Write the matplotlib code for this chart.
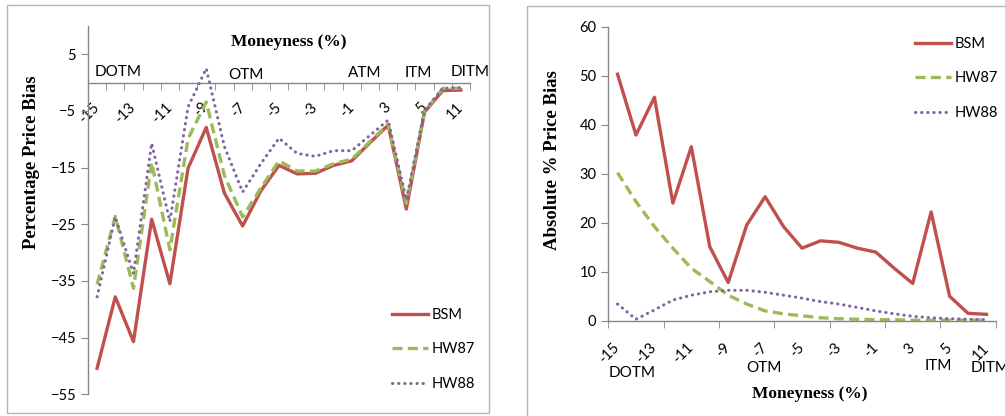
import numpy as np
import matplotlib
matplotlib.use("Agg")
import matplotlib.pyplot as plt
from matplotlib.patches import Rectangle

# Datos
moneyness = [-15, -14, -13, -12, -11, -10, -9, -8, -7, -6, -5, -4, -3, -2, -1,
             1, 3, 4, 5, 7, 11]

bsm_bias = [-50.4, -37.8, -45.7, -24.1, -35.5, -15.1, -7.9, -19.5, -25.3, -19.1,
            -14.6, -16.1, -16.0, -14.6, -13.8, -10.6, -7.5, -22.3, -5.2, -1.4, -1.3]
hw87_bias = [-35.6, -23.6, -36.3, -14.1, -29.5, -9.9, -3.4, -16.4, -23.7, -18.6,
             -13.8, -15.6, -15.6, -14.3, -13.5, -10.4, -7.3, -21.3, -5.1, -1.0, -1.0]
hw88_bias = [-37.8, -23.7, -33.7, -10.7, -24.5, -4.3, 2.5, -11.3, -19.3, -14.3,
             -9.8, -12.5, -13.0, -12.0, -12.0, -9.3, -6.6, -20.7, -4.9, -1.0, -0.9]

bsm_abs = [50.3, 37.9, 45.6, 24.0, 35.5, 15.1, 7.8, 19.5, 25.3, 19.2,
           14.8, 16.3, 16.0, 14.8, 14.0, 10.7, 7.6, 22.2, 5.0, 1.5, 1.3]
hw87_abs = [30.2, 24.3, 19.2, 14.8, 10.7, 8.0, 5.2, 3.4, 2.0, 1.4,
            1.0, 0.6, 0.4, 0.3, 0.2, 0.2, 0.1, 0.1, 0.1, 0.1, 0.1]
hw88_abs = [3.4, 0.3, 2.2, 4.2, 5.2, 5.9, 6.2, 6.2, 5.8, 5.2,
            4.6, 3.9, 3.4, 2.7, 2.0, 1.4, 0.9, 0.6, 0.4, 0.3, 0.2]

series_names = ["BSM", "HW87", "HW88"]

W, H = 1005, 416
fig = plt.figure(figsize=(W / 100, H / 100), dpi=100)

def px(x, y):
    return x / W, 1 - y / H

sans = "Lato"
serif = "Liberation Serif"
gris = "#868686"
estilos = [dict(color="#C0504D", lw=2.4, ls="-"),
           dict(color="#9BBB59", lw=2.4, ls=(0, (3, 1.6))),
           dict(color="#8064A2", lw=2.2, ls=(0, (0.1, 1.9)), dash_capstyle="round")]

x = np.arange(len(moneyness))
etiquetas = [str(m) for m in moneyness]

def ejes_base(ax):
    ax.set_xlim(-0.5, len(moneyness) - 0.5)
    for s in ["top", "right"]:
        ax.spines[s].set_visible(False)
    for s in ["left", "bottom"]:
        ax.spines[s].set_color(gris)
        ax.spines[s].set_linewidth(1.0)
    ax.set_xticks(x[::2])
    ax.set_xticklabels(etiquetas[::2], rotation=45, ha="right", va="center",
                       rotation_mode="anchor", fontfamily=sans, fontsize=10.5)
    ax.tick_params(axis="x", length=0)
    ax.tick_params(axis="y", length=5, color=gris, direction="out",
                   labelsize=10.5)
    for t in ax.get_yticklabels():
        t.set_fontfamily(sans)

def leyenda(ax, x0, y0):
    ax.legend(loc="upper left", bbox_to_anchor=px(x0, y0),
              bbox_transform=fig.transFigure, frameon=False, borderpad=0,
              borderaxespad=0, handlelength=2.5, labelspacing=1.4,
              handletextpad=0.2, prop=dict(family=sans, size=10.5))

# Marcos de cada grafico
fig.patches.append(Rectangle(px(7, 413), 482 / W, 408 / H, transform=fig.transFigure,
                             fill=False, edgecolor="#B4B4B4", lw=1.0))
fig.patches.append(Rectangle(px(527, 420), 500 / W, 414 / H, transform=fig.transFigure,
                             fill=False, edgecolor="#B4B4B4", lw=1.0))

# ---------------- Grafico izquierdo ----------------
ax1 = fig.add_axes([88 / W, (416 - 394.3) / H, 382 / W, 368.3 / H])
for serie, nombre, st in zip([bsm_bias, hw87_bias, hw88_bias], series_names, estilos):
    ax1.plot(x, serie, label=nombre, **st)
ax1.set_ylim(-55, 10)
ax1.set_yticks(np.arange(-55, 10, 10))
ax1.spines["bottom"].set_position(("data", 0))
ejes_base(ax1)
ax1.set_xticks(np.arange(-0.5, len(moneyness), 1), minor=True)
ax1.tick_params(axis="x", which="minor", length=5, color=gris, direction="out")
ax1.tick_params(axis="x", which="major", pad=16)
for t in ax1.get_xticklabels():
    t.set_fontfamily(sans)
leyenda(ax1, 392, 308)

fig.text(*px(289, 42), "Moneyness (%)", ha="center", va="center",
         fontfamily=serif, fontweight="bold", fontsize=12.5)
fig.text(*px(32, 162), "Percentage Price Bias", ha="center", va="center",
         rotation=90, fontfamily=serif, fontweight="bold", fontsize=13.5)
for txt, cx, cy in [("DOTM", 118, 72), ("OTM", 246, 75), ("ATM", 365, 73),
                    ("ITM", 418, 73), ("DITM", 470, 72)]:
    fig.text(*px(cx, cy), txt, ha="center", va="center", fontfamily=sans, fontsize=11)

# ---------------- Grafico derecho ----------------
ax2 = fig.add_axes([608.3 / W, (416 - 320.7) / H, 387.4 / W, 294 / H])
for serie, nombre, st in zip([bsm_abs, hw87_abs, hw88_abs], series_names, estilos):
    ax2.plot(x, serie, label=nombre, **st)
ax2.set_ylim(0, 60)
ax2.set_yticks(np.arange(0, 61, 10))
ejes_base(ax2)
ax2.set_xticks(np.arange(-0.5, len(moneyness), 3), minor=True)
ax2.tick_params(axis="x", which="minor", length=5, color=gris, direction="out")
ax2.tick_params(axis="x", which="major", pad=18)
for t in ax2.get_xticklabels():
    t.set_fontfamily(sans)
leyenda(ax2, 915, 37)

fig.text(*px(809.5, 394), "Moneyness (%)", ha="center", va="center",
         fontfamily=serif, fontweight="bold", fontsize=12.5)
fig.text(*px(552, 160), "Absolute % Price Bias", ha="center", va="center",
         rotation=90, fontfamily=serif, fontweight="bold", fontsize=13.5)
for txt, cx, cy in [("DOTM", 632.5, 373), ("OTM", 764, 368), ("ITM", 938.7, 366),
                    ("DITM", 990, 368)]:
    fig.text(*px(cx, cy), txt, ha="center", va="center", fontfamily=sans, fontsize=11)

fig.savefig("out.png", dpi=100)
